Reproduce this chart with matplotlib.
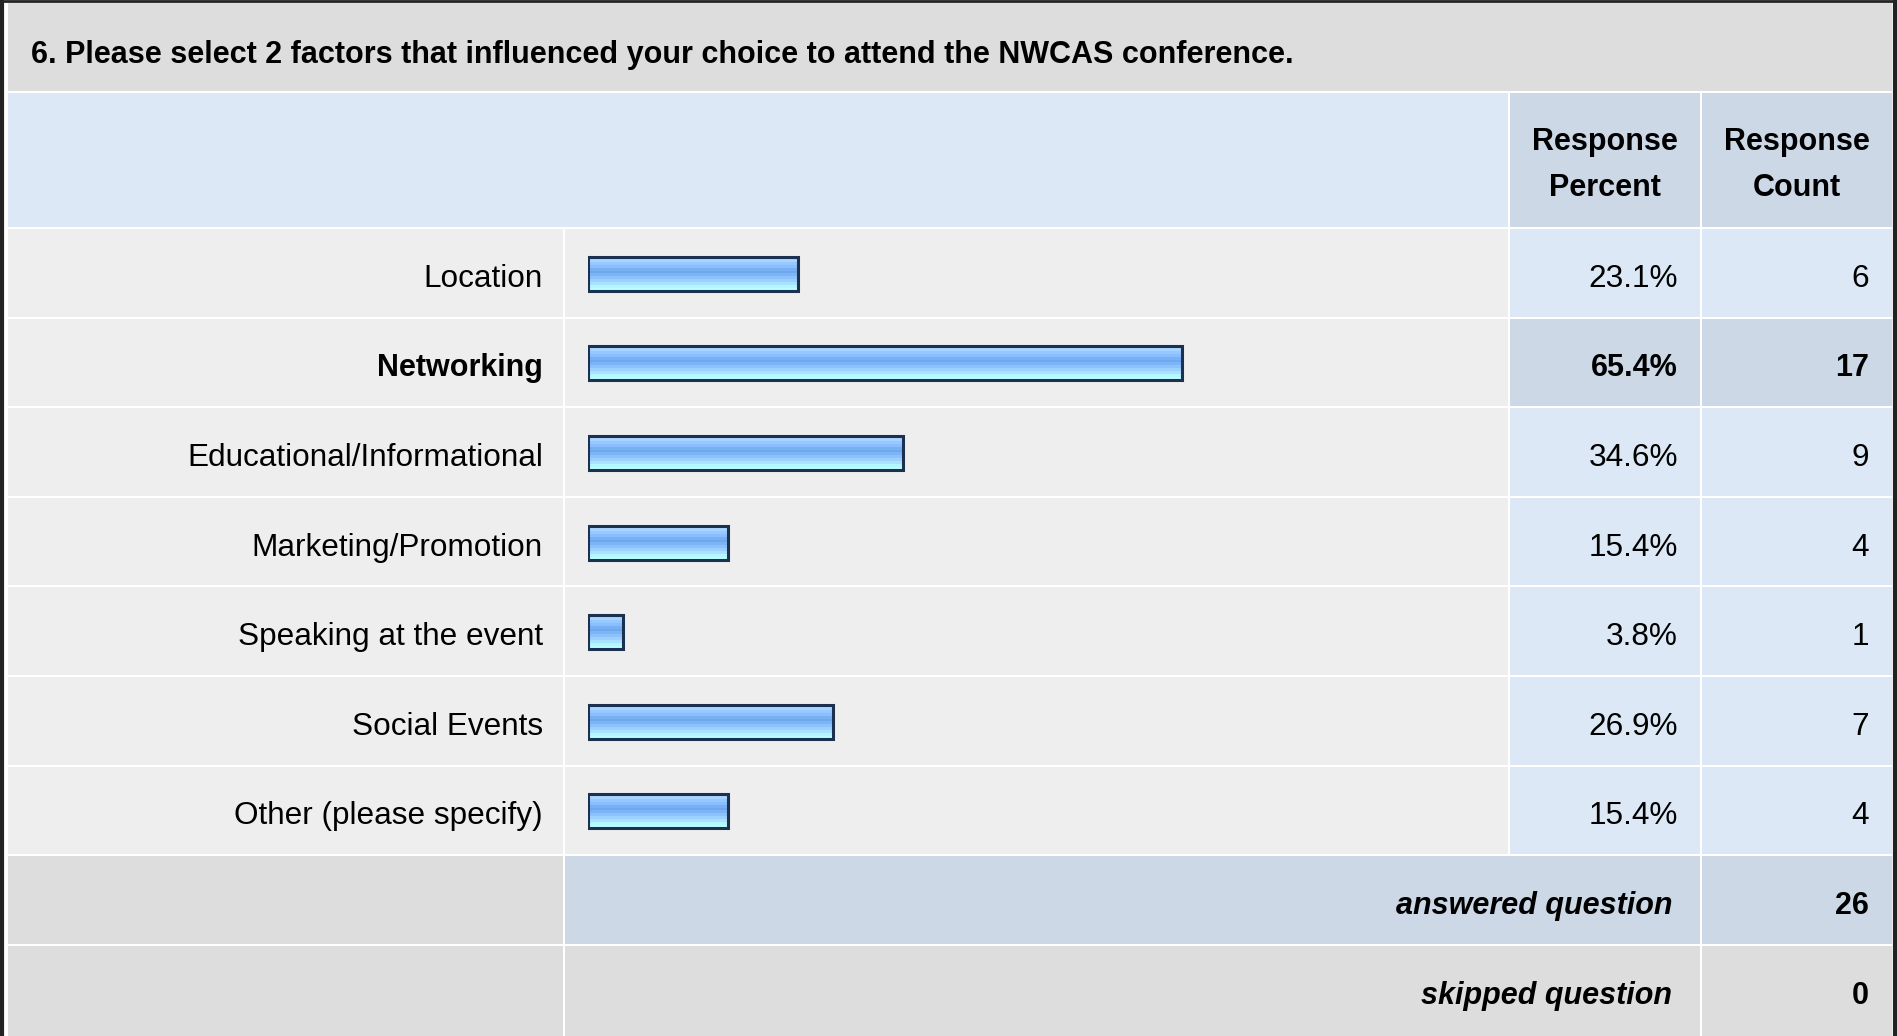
import matplotlib
matplotlib.use("Agg")
import matplotlib.pyplot as plt
from matplotlib.patches import Rectangle
import numpy as np

plt.rcParams['font.family'] = ['Liberation Sans', 'DejaVu Sans']

# data
title = "6. Please select 2 factors that influenced your choice to attend the NWCAS conference."
categories = ["Location", "Networking", "Educational/Informational", "Marketing/Promotion",
              "Speaking at the event", "Social Events", "Other (please specify)"]
percents = [23.1, 65.4, 34.6, 15.4, 3.8, 26.9, 15.4]
counts = [6, 17, 9, 4, 1, 7, 4]
highlight = "Networking"
answered = 26
skipped = 0

W, H = 1897, 1036
fig = plt.figure(figsize=(W / 100, H / 100), dpi=100)
ax = fig.add_axes([0, 0, 1, 1])
ax.set_xlim(0, W)
ax.set_ylim(H, 0)
ax.axis('off')

FS = 22      # bold text
FSR = 22.7   # regular text
gray = '#dddddd'
light = '#eeeeee'
blue1 = '#dce8f5'
blue2 = '#ccd8e6'

def cell(x0, x1, y0, y1, color):
    ax.add_patch(Rectangle((x0, y0), x1 - x0, y1 - y0, facecolor=color, edgecolor='none'))

# column edges (px) and row layout
c_lab, c_bar, c_pct, c_cnt, c_end = 8, 565, 1510, 1702, 1892
top_rows = 229
pitch = 89.6
gap = 2
dy = 6  # text baseline nudge

ax.add_patch(Rectangle((0, 0), W, H, facecolor='white', edgecolor='none'))
# title band
cell(c_lab, c_end, 3, 91, gray)
ax.text(31, 55, title, fontsize=22, fontweight='bold', va='center', ha='left')

# header
cell(c_lab, c_pct - gap, 93, 227, blue1)
cell(c_pct, c_cnt - gap, 93, 227, blue2)
cell(c_cnt, c_end, 93, 227, blue2)
ax.text((c_pct + c_cnt - gap) / 2, 165, "Response\nPercent", fontsize=FS, fontweight='bold',
        ha='center', va='center', linespacing=1.66)
ax.text((c_cnt + c_end) / 2, 165, "Response\nCount", fontsize=FS, fontweight='bold',
        ha='center', va='center', linespacing=1.66)

for i, (cat, p, n) in enumerate(zip(categories, percents, counts)):
    y0 = top_rows + i * pitch
    y1 = y0 + pitch - gap
    yc = (y0 + y1) / 2
    hl = cat == highlight
    cell(c_lab, c_bar - gap, y0, y1, light)
    cell(c_bar, c_pct - gap, y0, y1, light)
    cell(c_pct, c_cnt - gap, y0, y1, blue2 if hl else blue1)
    cell(c_cnt, c_end, y0, y1, blue2 if hl else blue1)
    fw = 'bold' if hl else 'normal'
    fs = FS if hl else FSR
    ax.text(543, yc + dy, cat, fontsize=fs, fontweight=fw, ha='right', va='center')
    ax.text(1678, yc + dy, f"{p:.1f}%", fontsize=fs, fontweight=fw, ha='right', va='center')
    ax.text(1869, yc + dy, str(n), fontsize=fs, fontweight=fw, ha='right', va='center')

# summary rows
y0 = top_rows + 7 * pitch
y1 = y0 + pitch - gap
cell(c_lab, c_bar - gap, y0, y1, gray)
cell(c_bar, c_cnt - gap, y0, y1, blue2)
cell(c_cnt, c_end, y0, y1, blue2)
ax.text(1672, (y0 + y1) / 2 + dy, "answered question", fontsize=FS, fontweight='bold',
        fontstyle='italic', ha='right', va='center')
ax.text(1869, (y0 + y1) / 2 + dy, str(answered), fontsize=FS, fontweight='bold', ha='right', va='center')
y0 = top_rows + 8 * pitch
y1 = H
cell(c_lab, c_bar - gap, y0, y1, gray)
cell(c_bar, c_cnt - gap, y0, y1, gray)
cell(c_cnt, c_end, y0, y1, gray)
ym = y0 + (pitch - gap) / 2
ax.text(1672, ym + dy, "skipped question", fontsize=FS, fontweight='bold',
        fontstyle='italic', ha='right', va='center')
ax.text(1869, ym + dy, str(skipped), fontsize=FS, fontweight='bold', ha='right', va='center')

# outer dark border
ax.plot([1.5, 1.5], [0, H], color='#222222', lw=3, solid_capstyle='butt')
ax.plot([W - 2.5, W - 2.5], [0, H], color='#222222', lw=3, solid_capstyle='butt')
ax.plot([0, W], [1, 1], color='#222222', lw=2, solid_capstyle='butt')

# bar axes: 0-100% across the bar area
bx0, bx1 = 588, 1497
by0 = top_rows
by1 = top_rows + 7 * pitch
bax = fig.add_axes([bx0 / W, 1 - by1 / H, (bx1 - bx0) / W, (by1 - by0) / H])
bax.axis('off')

stripes = ['#c6e2ff', '#a8d4ff', '#96c9ff', '#8abeff', '#78b0f4', '#70a8ee',
           '#7cb4f6', '#8cc2fc', '#9cd0ff', '#a8e2ff', '#b4f6ff', '#b8ffff']
grad = np.array([[matplotlib.colors.to_rgb(c)] for c in stripes])
bh = 0.38
for i, p in enumerate(percents):
    bax.imshow(grad, extent=[0, p, i + bh / 2, i - bh / 2], aspect='auto',
               interpolation='nearest', zorder=2)
    bax.add_patch(Rectangle((0, i - bh / 2), p, bh, facecolor='none',
                            edgecolor='#1c3050', lw=2.2, zorder=3))
bax.set_xlim(0, 100)
bax.set_ylim(len(categories) - 0.5, -0.5)
bax.set_aspect('auto')

fig.savefig('out.png', dpi=100)
